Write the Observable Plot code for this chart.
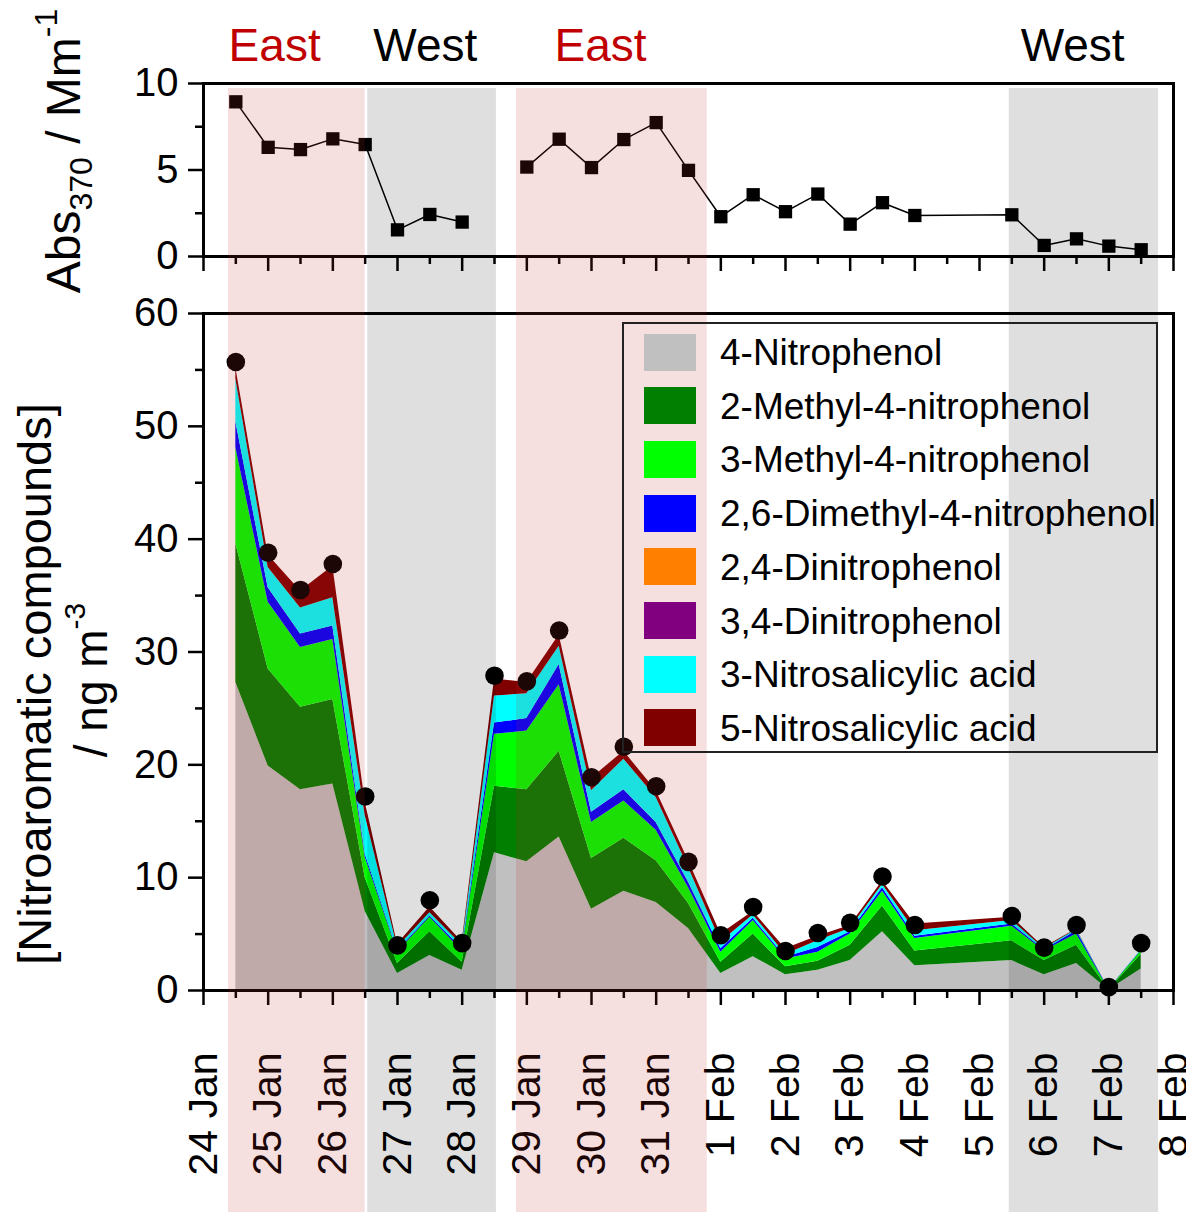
<!DOCTYPE html>
<html><head><meta charset="utf-8">
<script src="https://cdn.jsdelivr.net/npm/d3@7"></script>
<script src="https://cdn.jsdelivr.net/npm/@observablehq/plot@0.6"></script>
<style>
html,body{margin:0;padding:0;background:#fff;}
#chart{position:relative;width:1186px;height:1212px;overflow:hidden;font-family:"Liberation Sans",Arial,sans-serif;}
#chart > svg{position:absolute;left:0;top:0;}
</style></head><body><div id="chart"></div>
<script>
// ---- data ----
const dayLabels = ["24 Jan","25 Jan","26 Jan","27 Jan","28 Jan","29 Jan","30 Jan","31 Jan","1 Feb","2 Feb","3 Feb","4 Feb","5 Feb","6 Feb","7 Feb","8 Feb"];
const dayTicks = [0,1,2,3,4,5,6,7,8,9,10,11,12,13,14,15];
const halfTicks = [0.5,1.5,2.5,3.5,4.5,5.5,6.5,7.5,8.5,9.5,10.5,11.5,12.5,13.5,14.5];
const absTicks = [0,5,10];
const absMinor = [2.5,7.5];
const concTicks = [0,10,20,30,40,50,60];
const concMinor = [5,15,25,35,45,55];

// sample times, days after 24 Jan 00:00
const times = [0.5,1,1.5,2,2.5,3,3.5,4,4.5,5,5.5,6,6.5,7,7.5,8,8.5,9,9.5,10,10.5,11,12.5,13,13.5,14,14.5];
const abs370 = [8.94,6.31,6.18,6.80,6.47,1.54,2.43,1.99,null,5.17,6.78,5.14,6.76,7.74,4.98,2.30,3.57,2.59,3.61,1.87,3.11,2.37,2.41,0.64,1.02,0.60,0.39];
const totals = [55.7,38.8,35.5,37.8,17.2,4.0,8.0,4.2,27.9,27.4,31.9,18.9,21.6,18.1,11.4,4.9,7.4,3.5,5.1,6.0,10.1,5.8,6.6,3.8,5.8,0.3,4.2];

const compounds = ["4-Nitrophenol","2-Methyl-4-nitrophenol","3-Methyl-4-nitrophenol","2,6-Dimethyl-4-nitrophenol","2,4-Dinitrophenol","3,4-Dinitrophenol","3-Nitrosalicylic acid","5-Nitrosalicylic acid"];
const compoundColors = ["#c0c0c0","#007f00","#00ff00","#0000ff","#ff8000","#800080","#00ffff","#800000"];
const nitrophenol4 = [27.3,19.9,17.8,18.3,7.0,1.5,3.1,1.8,12.2,11.4,13.6,7.2,8.8,7.8,5.5,1.5,3.0,1.4,1.8,2.65,5.2,2.2,2.65,1.4,2.4,0.05,1.9];
const methyl2nitrophenol = [12.3,8.6,7.3,7.5,3.0,0.9,2.1,0.7,5.9,6.4,7.6,4.5,4.7,3.7,2.2,1.0,2.0,0.7,0.8,1.35,2.3,1.3,1.75,1.25,1.6,0.02,1.3];
const methyl3nitrophenol = [8.5,5.9,5.3,5.3,1.8,1.0,1.3,1.0,4.6,5.2,5.9,3.2,3.3,2.7,1.4,0.9,1.2,0.7,0.8,1.0,1.3,1.1,1.3,0.85,1.0,0.02,0.3];
const dimethylnitrophenol = [2.3,1.3,1.2,1.2,0.3,0.1,0.1,0.2,1.0,1.1,1.8,0.9,1.0,0.7,0.5,0.3,0.2,0.15,0.4,0.2,0.3,0.2,0.2,0.1,0.3,0.01,0.05];
const dinitrophenol24 = [0,0,0,0,0,0,0,0,0,0,0,0,0,0,0,0,0,0,0,0,0,0,0,0,0,0,0];
const dinitrophenol34 = [0,0,0,0,0,0,0,0,0,0,0,0,0,0,0,0,0,0,0,0,0,0,0,0,0,0,0];
const nitrosalicylic3 = [3.8,1.8,2.3,2.5,3.4,0.3,0.3,0.3,2.4,2.2,1.6,1.9,2.7,2.2,1.3,0.6,0.3,0.25,0.6,0.3,0.3,0.5,0.3,0.1,0.1,0.01,0.03];
const nitrosalicylic5 = [1.0,1.1,1.5,2.8,1.2,0.3,0.5,0.3,1.5,1.0,1.0,1.1,0.7,0.6,0.6,0.7,0.3,0.5,0.4,0.25,0.3,0.6,0.3,0.1,0.05,0.01,0.02];

// air-mass periods
const periodKind = ["East","West","East","West"];
const periodStart = [0.387,2.54,4.84,12.46];
const periodEnd = [2.50,4.53,7.79,14.77];
const periodLabelX = [1.10,3.43,6.14,13.44];

// ---- build tables ----
const series = [nitrophenol4,methyl2nitrophenol,methyl3nitrophenol,dimethylnitrophenol,dinitrophenol24,dinitrophenol34,nitrosalicylic3,nitrosalicylic5];
const stackRows = compounds.flatMap((c,k) => times.map((t,i) => ({t, c, v: series[k][i]})));
const absRows = times.map((t,i) => ({t, v: abs370[i]}));
const totalRows = times.map((t,i) => ({t, v: totals[i]}));
const periods = periodKind.map((k,i) => ({kind:k, start:periodStart[i], end:periodEnd[i], lx:periodLabelX[i]}));

const W = 1186, ML = 203, MR = 13;
const font = '"Liberation Sans", Arial, sans-serif';
const svgStyle = {background:"transparent", overflow:"visible", fontFamily: font, color:"black"};
const chart = document.getElementById("chart");

// ---- bottom panel ----
const bottomPlot = Plot.plot({
  width: W, height: 1212, marginLeft: ML, marginRight: MR, marginTop: 313, marginBottom: 222,
  style: svgStyle,
  x: {domain:[0,15], label:null},
  y: {domain:[0,60], label:null},
  color: {domain: compounds, range: compoundColors},
  marks: [
    Plot.areaY(stackRows, {x:"t", y:"v", fill:"c"}),
    Plot.dot(totalRows, {x:"t", y:"v", r:9.3, fill:"black"}),
    Plot.frame({stroke:"black", strokeWidth:3}),
    Plot.axisY(concTicks, {tickSize:15, tickPadding:10, fontSize:40, strokeWidth:2.5, label:null}),
    Plot.axisY(concMinor, {tickSize:8, tickFormat:() => "", strokeWidth:2.5, label:null}),
    Plot.axisX(dayTicks, {tickSize:15, tickPadding:47, tickRotate:-90, textAnchor:"end", fontSize:41, tickFormat: d => dayLabels[d], strokeWidth:2.5, label:null}),
    Plot.axisX(halfTicks, {tickSize:8, tickFormat:() => "", strokeWidth:2.5, label:null})
  ]
});
chart.appendChild(bottomPlot);
{
  const s = d3.select(bottomPlot);
  s.append("text").attr("transform","translate(51,684) rotate(-90)").attr("text-anchor","middle")
    .attr("font-size",47).attr("fill","black").text("[Nitroaromatic compounds]");
  const t2 = s.append("text").attr("transform","translate(107,680) rotate(-90)").attr("text-anchor","middle")
    .attr("font-size",46).attr("fill","black");
  t2.append("tspan").text("/ ng m");
  t2.append("tspan").attr("font-size",30).attr("dy",-22).text("-3");
}

// ---- top panel ----
const topPlot = Plot.plot({
  width: W, height: 300, marginLeft: ML, marginRight: MR, marginTop: 83, marginBottom: 44,
  style: svgStyle,
  x: {domain:[0,15], label:null},
  y: {domain:[0,10], label:null},
  color: {domain:["East","West"], range:["#c00000","black"]},
  marks: [
    Plot.line(absRows, {x:"t", y:"v", stroke:"black", strokeWidth:1.5}),
    Plot.dot(absRows.filter(d => d.v != null), {x:"t", y:"v", symbol:"square", r:7.5, fill:"black"}),
    Plot.frame({stroke:"black", strokeWidth:3}),
    Plot.axisY(absTicks, {tickSize:15, tickPadding:10, fontSize:40, strokeWidth:2.5, label:null}),
    Plot.axisY(absMinor, {tickSize:8, tickFormat:() => "", strokeWidth:2.5, label:null}),
    Plot.axisX(dayTicks, {tickSize:15, tickFormat:() => "", strokeWidth:2.5, label:null}),
    Plot.axisX(halfTicks, {tickSize:8, tickFormat:() => "", strokeWidth:2.5, label:null}),
    Plot.text(periods, {x:"lx", text:"kind", fill:"kind", frameAnchor:"top", dy:-55, fontSize:46})
  ]
});
chart.appendChild(topPlot);
{
  const t1 = d3.select(topPlot).append("text").attr("transform","translate(80,151) rotate(-90)")
    .attr("text-anchor","middle").attr("font-size",48).attr("fill","black");
  t1.append("tspan").text("Abs");
  t1.append("tspan").attr("font-size",32).attr("dy",12).text("370");
  t1.append("tspan").attr("dy",-12).text(" / Mm");
  t1.append("tspan").attr("font-size",32).attr("dy",-23).text("-1");
}

// ---- air-mass shading overlay ----
const overlayPlot = Plot.plot({
  width: W, height: 1212, marginLeft: ML, marginRight: MR, marginTop: 88, marginBottom: 0,
  style: {background:"transparent", overflow:"visible", pointerEvents:"none"},
  x: {domain:[0,15], axis:null},
  color: {domain:["East","West"], range:["rgba(190,40,40,0.15)","rgba(0,0,0,0.125)"]},
  marks: [ Plot.rect(periods, {x1:"start", x2:"end", fill:"kind"}) ]
});
chart.appendChild(overlayPlot);

// ---- legend ----
const legend = document.createElement("div");
legend.style.cssText = "position:absolute;left:622px;top:322px;width:532px;height:427px;border:2px solid #222;";
compounds.forEach((c,i) => {
  const cy = 28 + 53.7*i;
  const sw = document.createElement("div");
  sw.style.cssText = `position:absolute;left:20px;top:${cy-18.5}px;width:52px;height:37px;background:${compoundColors[i]};`;
  const tx = document.createElement("div");
  tx.style.cssText = `position:absolute;left:96px;top:${cy-18}px;font-size:37px;line-height:37px;white-space:nowrap;color:#000;`;
  tx.textContent = c;
  legend.appendChild(sw); legend.appendChild(tx);
});
chart.appendChild(legend);
</script></body></html>
